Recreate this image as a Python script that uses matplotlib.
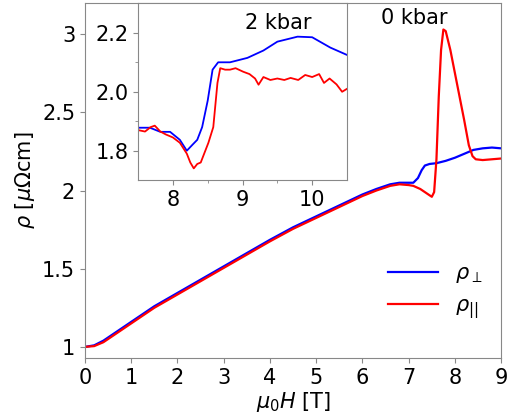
import numpy as np
import matplotlib.pyplot as plt

# Main panel: resistivity vs field at 0 kbar
h_perp = [0, 0.2, 0.4, 0.7, 1.0, 1.5, 2.0, 2.5, 3.0, 3.5, 4.0, 4.5, 5.0, 5.5,
          6.0, 6.3, 6.6, 6.8, 7.0, 7.1, 7.2, 7.28, 7.35, 7.45, 7.6, 7.8, 8.0,
          8.2, 8.4, 8.6, 8.8, 9.0]
rho_perp = [1.0, 1.01, 1.04, 1.10, 1.16, 1.26, 1.345, 1.43, 1.515, 1.60, 1.685,
            1.765, 1.835, 1.905, 1.975, 2.01, 2.04, 2.05, 2.05, 2.05, 2.08,
            2.13, 2.16, 2.17, 2.175, 2.19, 2.21, 2.235, 2.26, 2.27, 2.275, 2.27]

h_par = [0, 0.2, 0.4, 0.7, 1.0, 1.5, 2.0, 2.5, 3.0, 3.5, 4.0, 4.5, 5.0, 5.5,
         6.0, 6.3, 6.6, 6.8, 7.0, 7.1, 7.25, 7.4, 7.5, 7.55, 7.6, 7.65, 7.7,
         7.75, 7.8, 7.9, 8.0, 8.1, 8.2, 8.3, 8.38, 8.45, 8.6, 8.8, 9.0]
rho_par = [1.0, 1.005, 1.03, 1.09, 1.15, 1.25, 1.335, 1.42, 1.505, 1.59, 1.675,
           1.755, 1.825, 1.895, 1.965, 2.0, 2.03, 2.04, 2.035, 2.03, 2.01, 1.98,
           1.96, 1.99, 2.2, 2.6, 2.9, 3.03, 3.02, 2.9, 2.75, 2.6, 2.45, 2.29,
           2.22, 2.2, 2.195, 2.2, 2.205]

# Inset: 2 kbar
hi_perp = [7.5, 7.67, 7.82, 7.96, 8.1, 8.2, 8.28, 8.35, 8.42, 8.5, 8.57, 8.65,
           8.82, 9.07, 9.3, 9.5, 9.79, 10.0, 10.26, 10.5]
rhoi_perp = [1.878, 1.878, 1.864, 1.864, 1.837, 1.80, 1.82, 1.837, 1.88, 1.97,
             2.075, 2.10, 2.10, 2.115, 2.14, 2.17, 2.187, 2.185, 2.15, 2.125]

hi_par = [7.5, 7.6, 7.68, 7.74, 7.82, 7.9, 8.0, 8.1, 8.2, 8.25, 8.3, 8.35, 8.4,
          8.51, 8.58, 8.64, 8.68, 8.75, 8.82, 8.9, 9.01, 9.1, 9.18, 9.23, 9.3,
          9.4, 9.5, 9.6, 9.69, 9.8, 9.9, 10.0, 10.1, 10.17, 10.25, 10.35,
          10.43, 10.5]
rhoi_par = [1.87, 1.865, 1.88, 1.885, 1.865, 1.855, 1.845, 1.827, 1.79, 1.76,
            1.74, 1.755, 1.76, 1.827, 1.88, 2.03, 2.08, 2.075, 2.075, 2.08,
            2.068, 2.06, 2.045, 2.024, 2.05, 2.04, 2.045, 2.04, 2.047, 2.04,
            2.057, 2.05, 2.06, 2.03, 2.045, 2.025, 2.0, 2.01]

plt.rcParams['font.size'] = 15
grey = '#888888'

fig = plt.figure(figsize=(5.21, 4.20), dpi=100)
ax = fig.add_axes([0.163, 0.148, 0.799, 0.845])
ax.plot(h_perp, rho_perp, color='blue', lw=1.6, label=r'$\rho_\perp$')
ax.plot(h_par, rho_par, color='red', lw=1.6, label=r'$\rho_{||}$')
ax.set_xlim(0, 9)
ax.set_ylim(0.93, 3.2)
ax.set_xticks(range(10))
ax.set_yticks([1, 1.5, 2, 2.5, 3])
ax.set_yticklabels(['1', '1.5', '2', '2.5', '3'])
ax.set_xlabel(r'$\mu_0H$ [T]', labelpad=2)
ax.set_ylabel(r'$\rho$ [$\mu\Omega$cm]')
ax.text(0.79, 0.958, '0 kbar', transform=ax.transAxes, ha='center', va='center')
ax.legend(loc='lower right', frameon=False, handlelength=2.4,
          bbox_to_anchor=(1.0, 0.05))
for s in ax.spines.values():
    s.set_color(grey)
ax.tick_params(color=grey)

ins = fig.add_axes([0.265, 0.571, 0.401, 0.421])
ins.plot(hi_perp, rhoi_perp, color='blue', lw=1.3)
ins.plot(hi_par, rhoi_par, color='red', lw=1.3)
ins.set_xlim(7.5, 10.5)
ins.set_ylim(1.7, 2.3)
ins.set_xticks([8, 9, 10])
ins.set_xticks([8.5, 9.5], minor=True)
ins.set_yticks([1.8, 2.0, 2.2])
ins.set_yticks([1.9, 2.1], minor=True)
ins.set_yticklabels(['1.8', '2.0', '2.2'])
ins.text(0.67, 0.89, '2 kbar', transform=ins.transAxes, ha='center', va='center')
for s in ins.spines.values():
    s.set_color(grey)
ins.tick_params(which='both', color=grey)

fig.savefig('out.png', dpi=100)
